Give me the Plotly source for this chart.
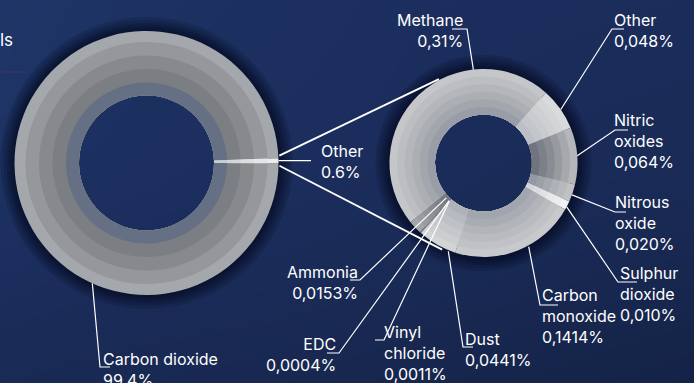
import math
import plotly.graph_objects as go

W, H = 694, 383

# ---- data -------------------------------------------------------------
# Share of total emissions, %
main_labels = ["Carbon dioxide", "Other"]
main_values = [99.4, 0.6]
main_text = ["99.4%", "0.6%"]

# Breakdown of the "Other" share, % of total emissions
other_labels = ["Methane", "Other", "Nitric oxides", "Nitrous oxide", "Sulphur dioxide",
                "Carbon monoxide", "Dust", "Vinyl chloride", "EDC", "Ammonia"]
other_values = [0.31, 0.048, 0.064, 0.020, 0.010, 0.1414, 0.0441, 0.0011, 0.0004, 0.0153]
other_text = ["0,31%", "0,048%", "0,064%", "0,020%", "0,010%",
              "0,1414%", "0,0441%", "0,0011%", "0,0004%", "0,0153%"]
other_names = ["Methane", "Other", "Nitric<br>oxides", "Nitrous<br>oxide", "Sulphur<br>dioxide",
               "Carbon<br>monoxide", "Dust", "Vinyl<br>chloride", "EDC", "Ammonia"]

# ---- geometry (pixels) -------------------------------------------------
L_CX, L_CY = 146.5, 163.0
L_BANDS = [132, 121, 107.5, 94, 80.5]          # outer radius of each grey band
L_INNER = 67.5
L_OTHER_CENTER = 89.0                          # clock angle of the "Other" wedge

R_CX, R_CY = 483.5, 163.0
R_BANDS = [94, 86.4, 78.8, 71.3, 63.7, 56.1]
R_INNER = 48.5
R_ROTATION = 231.0

# band shades, outer -> inner
main_colors = {
    "Carbon dioxide": ["#a4a7ab", "#95979a", "#88898c", "#7b7e83", "#667084"],
    "Other": ["#ececec", "#e4e5e6", "#dcdee0", "#d3d6da", "#c9cdd3"],
}
other_colors = {
    "Methane": ["#c4c6c9", "#bcbec2", "#b4b6ba", "#abaeb3", "#a2a6ad", "#989da7"],
    "Other": ["#d9dadc", "#d4d5d7", "#cfd0d3", "#c9cbce", "#c3c6ca", "#bcc0c6"],
    "Nitric oxides": ["#b4b6b9", "#a6a8ac", "#979a9f", "#898c93", "#7c8089", "#6f747f"],
    "Nitrous oxide": ["#c0c2c5", "#b7b9bd", "#aeb1b5", "#a5a8ae", "#9ca0a7", "#9398a2"],
    "Sulphur dioxide": ["#f2f2f2", "#ededed", "#e7e8e9", "#e1e2e4", "#dadcdf", "#d3d6da"],
    "Carbon monoxide": ["#c7c9cc", "#c0c2c5", "#b9bbbf", "#b1b4b9", "#a9adb3", "#a1a6ae"],
    "Dust": ["#d3d4d6", "#cccdd0", "#c5c7ca", "#bec1c5", "#b7babf", "#afb3b9"],
    "Vinyl chloride": ["#8c8e92", "#84878b", "#7c7f84", "#74787e", "#6d7178", "#666b73"],
    "EDC": ["#8c8e92", "#84878b", "#7c7f84", "#74787e", "#6d7178", "#666b73"],
    "Ammonia": ["#a4a6a9", "#9a9ca0", "#909296", "#878a8f", "#7e8288", "#757a82"],
}

FONT = "Inter"
WHITE = "#ffffff"


def domain(cx, cy, r):
    return dict(x=[(cx - r) / W, (cx + r) / W], y=[1 - (cy + r) / H, 1 - (cy - r) / H])


def ring(cx, cy, r, inner, values, colors, rotation):
    return go.Pie(values=values, sort=False, direction="clockwise", rotation=rotation,
                  hole=inner / r, domain=domain(cx, cy, r),
                  marker=dict(colors=colors, line=dict(width=0)),
                  textinfo="none", hoverinfo="skip", showlegend=False)


def bounds(values, rotation):
    tot = sum(values)
    out, a = [], rotation
    for v in values:
        span = v / tot * 360.0
        out.append((a, a + span))
        a += span
    return out


def point(cx, cy, r, ang):
    t = math.radians(ang)
    return cx + r * math.sin(t), cy - r * math.cos(t)


fig = go.Figure()

# background wash
bg_x = [0, 140, 280, 420, 560, 694]
bg_y = [0, 95, 190, 285, 383]
bg_z = [
    [0.95, 0.85, 0.78, 0.72, 0.70, 0.68],
    [0.92, 0.80, 0.75, 0.70, 0.66, 0.64],
    [0.82, 0.75, 0.70, 0.66, 0.62, 0.60],
    [0.70, 0.64, 0.62, 0.58, 0.52, 0.48],
    [0.58, 0.55, 0.52, 0.46, 0.40, 0.34],
]
fig.add_trace(go.Heatmap(
    x=bg_x, y=bg_y, z=bg_z, zmin=0, zmax=1, zsmooth="best", showscale=False,
    hoverinfo="skip",
    colorscale=[[0, "#0e1836"], [0.4, "#152449"], [0.7, "#1b2d5c"], [1, "#1f3769"]],
))

# soft drop shadows
for cx, cy, r_out in [(L_CX, L_CY, L_BANDS[0]), (R_CX, R_CY, R_BANDS[0])]:
    for d in [14, 11, 8, 6, 4, 2]:
        fig.add_trace(ring(cx, cy, r_out + d, r_out - 2, [1], ["rgba(6,12,32,0.18)"], 0))

# left donut: total emissions
main_span = main_values[1] / sum(main_values) * 360.0
L_ROTATION = L_OTHER_CENTER + main_span / 2
for k, r in enumerate(L_BANDS):
    cols = [main_colors[n][k] for n in main_labels]
    fig.add_trace(ring(L_CX, L_CY, r, L_INNER, main_values, cols, L_ROTATION))

# right donut: breakdown of "Other"
for k, r in enumerate(R_BANDS):
    cols = [other_colors[n][k] for n in other_labels]
    fig.add_trace(ring(R_CX, R_CY, r, R_INNER, other_values, cols, R_ROTATION))

shapes = []
annotations = []


def path(pts, width=1.2):
    d = "M " + " L ".join(f"{x:.2f},{y:.2f}" for x, y in pts)
    shapes.append(dict(type="path", path=d, xref="x", yref="y",
                       line=dict(color=WHITE, width=width), layer="above"))


def label(text, x, cap_top, anchor, size=16, xshift=0):
    annotations.append(dict(text=text, x=x, y=cap_top - 5, xref="x", yref="y",
                            xanchor=anchor, yanchor="top", align=anchor, showarrow=False,
                            borderpad=1, xshift=xshift,
                            font=dict(family=FONT, size=size, color=WHITE)))


# connectors between the "Other" wedge and the breakdown donut
main_b = bounds(main_values, L_ROTATION)
o0, o1 = main_b[1]
o_mid = (o0 + o1) / 2
path([point(L_CX, L_CY, L_BANDS[0] + 1, o_mid - 2.2), point(R_CX, R_CY, R_BANDS[0] + 1, 332.0)], 1.8)
path([point(L_CX, L_CY, L_BANDS[0] + 1, o_mid + 2.2), point(R_CX, R_CY, R_BANDS[0] + 2, 205.5)], 1.8)

# left donut labels
co2_a = main_b[0][0] + 0.319 * (main_b[0][1] - main_b[0][0])
path([point(L_CX, L_CY, L_BANDS[0], co2_a), (100, 367), (110, 367)])
label(f"{main_labels[0]}<br>{main_text[0]}", 101, 352, "left")
tip = point(L_CX, L_CY, L_BANDS[0], o_mid)
path([tip, (311, tip[1])])
label(f"{main_labels[1]}<br>{main_text[1]}", 319, 144, "left")

# right donut labels: (fraction along slice, radius, elbow, end, text x, cap top, anchor)
right_layout = {
    "Methane": (0.72, 94, (467, 29), (452, 29), 465, 12.7, "right"),
    "Other": (0.52, 94, (612, 29), (624, 29), 612, 12.7, "left"),
    "Nitric oxides": (0.50, 94, (615, 130), (628, 130), 612, 112.7, "left"),
    "Nitrous oxide": (0.60, 94, (615, 212), (626, 212), 613, 195, "left"),
    "Sulphur dioxide": (0.65, 94, (618, 282), (637, 282), 618, 266, "left"),
    "Carbon monoxide": (0.41, 95, (540, 305), (558, 305), 540, 288, "left"),
    "Dust": (0.175, 95, (463, 347), (473, 347), 463, 332, "left"),
    "Vinyl chloride": (0.5, 51, (384, 340), (375, 340), 382, 325, "left"),
    "EDC": (0.5, 51, (339, 353), (327, 353), 338, 337, "right"),
    "Ammonia": (0.5, 51, (360, 280), (350, 280), 360, 265, "right"),
}
right_b = bounds(other_values, R_ROTATION)
for i, name in enumerate(other_labels):
    frac, r, elbow, end, tx, cap, anchor = right_layout[name]
    a0, a1 = right_b[i]
    start = point(R_CX, R_CY, r, a0 + frac * (a1 - a0))
    path([start, elbow, end])
    label(f"{other_names[i]}<br>{other_text[i]}", tx, cap, anchor)

# heading, clipped by the left edge
label("ls", 0, 33, "left", size=17, xshift=-2)
shapes.append(dict(type="line", x0=0, x1=27, y0=72, y1=72, xref="x", yref="y",
                   line=dict(color="rgba(120,60,110,0.35)", width=1)))

fig.update_layout(
    width=W, height=H, margin=dict(l=0, r=0, t=0, b=0),
    paper_bgcolor="#1a2b58", plot_bgcolor="#1a2b58",
    xaxis=dict(range=[0, W], visible=False, fixedrange=True),
    yaxis=dict(range=[H, 0], visible=False, fixedrange=True),
    shapes=shapes, annotations=annotations, showlegend=False,
)

fig.write_html("out.html")
